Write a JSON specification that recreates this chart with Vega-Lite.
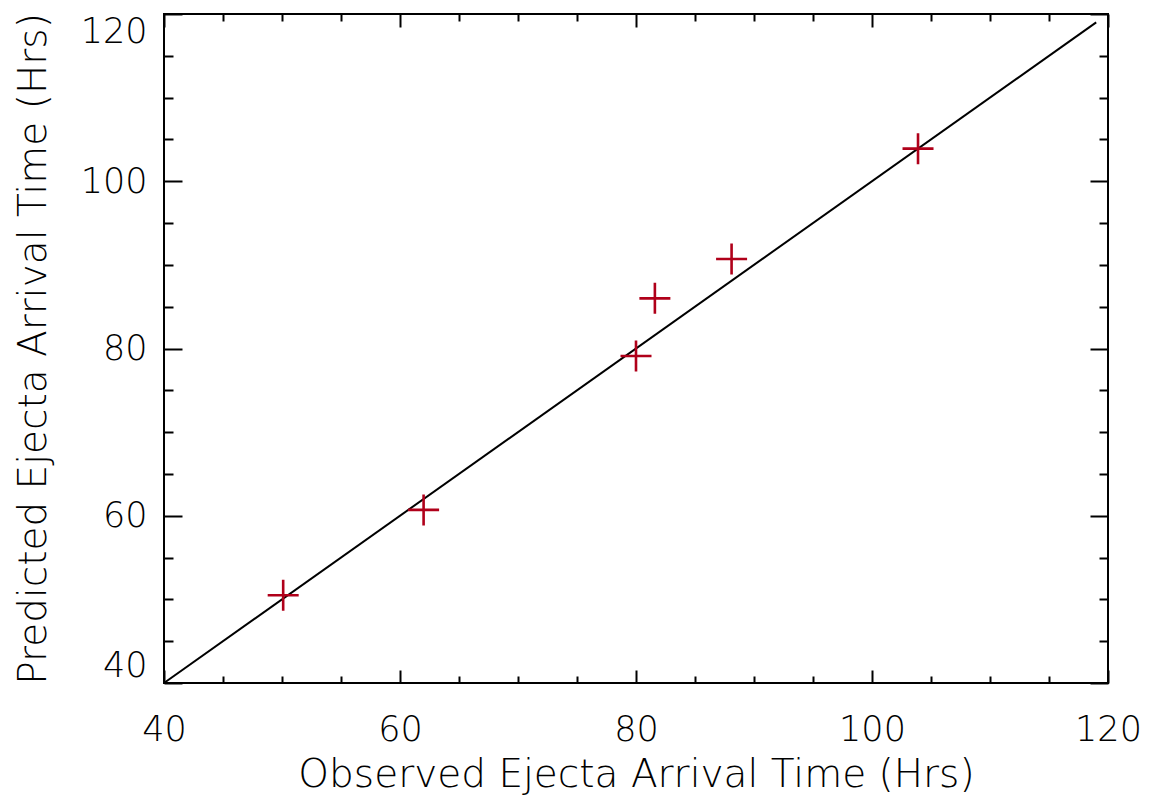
{
  "$schema": "https://vega.github.io/schema/vega-lite/v6.json",
  "width": 944,
  "height": 669,
  "autosize": "none",
  "padding": {"left": 164, "top": 14, "right": 48, "bottom": 117},
  "background": "white",
  "config": {
    "view": {"stroke": "black", "strokeWidth": 2},
    "axis": {
      "grid": false,
      "domain": false,
      "tickColor": "black",
      "tickWidth": 2,
      "labelColor": "black",
      "titleColor": "black",
      "labelFont": "DejaVu Sans",
      "titleFont": "DejaVu Sans",
      "labelFontSize": 35,
      "titleFontSize": 39,
      "labelFontWeight": 200,
      "titleFontWeight": 200
    }
  },
  "datasets": {
    "pts": [
      {"observed": 50.1, "predicted": 50.5},
      {"observed": 62.0, "predicted": 60.7},
      {"observed": 80.0, "predicted": 79.1},
      {"observed": 81.6, "predicted": 86.0},
      {"observed": 88.1, "predicted": 90.7},
      {"observed": 103.9, "predicted": 103.9}
    ],
    "ref": [
      {"observed": 40, "predicted": 40},
      {"observed": 119, "predicted": 119}
    ]
  },
  "layer": [
    {
      "data": {"name": "ref"},
      "mark": {"type": "line", "color": "black", "strokeWidth": 2},
      "encoding": {
        "x": {
          "field": "observed", "type": "quantitative",
          "scale": {"domain": [40, 120], "nice": false, "zero": false},
          "axis": {
            "orient": "bottom", "values": [40, 60, 80, 100, 120],
            "tickSize": -13, "labelPadding": 42, "labelFlush": false,
            "title": "Observed Ejecta Arrival Time (Hrs)", "titlePadding": 8
          }
        },
        "y": {
          "field": "predicted", "type": "quantitative",
          "scale": {"domain": [40, 120], "nice": false, "zero": false},
          "axis": {
            "orient": "left", "values": [40, 60, 80, 100, 120],
            "tickSize": -18, "labelPadding": 35, "labelFlush": true,
            "title": "Predicted Ejecta Arrival Time (Hrs)", "titlePadding": 27
          }
        }
      }
    },
    {
      "data": {"name": "pts"},
      "mark": {
        "type": "point",
        "shape": "M-1,0H1M0,-1V1",
        "filled": false,
        "size": 961,
        "strokeWidth": 2.6,
        "color": "#b0001a",
        "opacity": 1
      },
      "encoding": {
        "x": {
          "field": "observed", "type": "quantitative",
          "scale": {"domain": [40, 120], "nice": false, "zero": false},
          "axis": {
            "orient": "bottom",
            "values": [45, 50, 55, 65, 70, 75, 85, 90, 95, 105, 110, 115],
            "tickSize": -7, "labels": false, "title": null
          }
        },
        "y": {
          "field": "predicted", "type": "quantitative",
          "scale": {"domain": [40, 120], "nice": false, "zero": false},
          "axis": {
            "orient": "left",
            "values": [45, 50, 55, 65, 70, 75, 85, 90, 95, 105, 110, 115],
            "tickSize": -9, "labels": false, "title": null
          }
        }
      }
    },
    {
      "data": {"name": "pts"},
      "mark": {"type": "point", "opacity": 0},
      "encoding": {
        "x": {
          "field": "observed", "type": "quantitative",
          "scale": {"domain": [40, 120], "nice": false, "zero": false},
          "axis": {
            "orient": "top", "values": [40, 60, 80, 100, 120],
            "tickSize": -13, "labels": false, "title": null
          }
        },
        "y": {
          "field": "predicted", "type": "quantitative",
          "scale": {"domain": [40, 120], "nice": false, "zero": false},
          "axis": {
            "orient": "right", "values": [40, 60, 80, 100, 120],
            "tickSize": -18, "labels": false, "title": null
          }
        }
      }
    },
    {
      "data": {"name": "pts"},
      "mark": {"type": "point", "opacity": 0},
      "encoding": {
        "x": {
          "field": "observed", "type": "quantitative",
          "scale": {"domain": [40, 120], "nice": false, "zero": false},
          "axis": {
            "orient": "top",
            "values": [45, 50, 55, 65, 70, 75, 85, 90, 95, 105, 110, 115],
            "tickSize": -7, "labels": false, "title": null
          }
        },
        "y": {
          "field": "predicted", "type": "quantitative",
          "scale": {"domain": [40, 120], "nice": false, "zero": false},
          "axis": {
            "orient": "right",
            "values": [45, 50, 55, 65, 70, 75, 85, 90, 95, 105, 110, 115],
            "tickSize": -9, "labels": false, "title": null
          }
        }
      }
    }
  ],
  "resolve": {"scale": {"x": "independent", "y": "independent"}}
}
